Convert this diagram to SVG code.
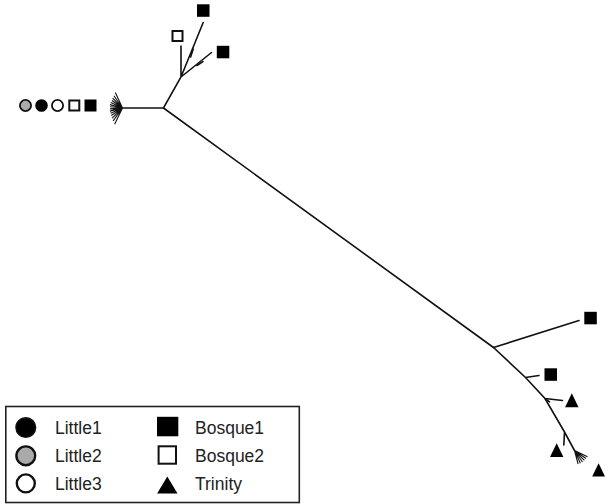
<svg xmlns="http://www.w3.org/2000/svg" width="605" height="504" viewBox="0 0 605 504">
<style>
.br{stroke:#111;stroke-width:1.6;fill:none;stroke-linecap:round}
.fan{stroke:#111;stroke-width:1.1;fill:none}
.fs{fill:#000;stroke:none}
.os{fill:#fff;stroke:#111;stroke-width:2}
.tri{fill:#000;stroke:none}
.lbl{font-family:"Liberation Sans",Arial,sans-serif;font-size:17.5px;fill:#222}
</style>
<rect width="605" height="504" fill="#fff"/>
<g id="connectors">
  <path class="br" d="M122.5,108 L163.5,108 L181,77 L203.2,22.5 M181,77 L181,46 M181,77 L211.5,52.5"/>
  <path class="br" stroke-width="1.3" d="M163.5,108 L493.5,347.5"/>
  <path class="br" d="M493.5,347.5 L579,320.5 M493.5,347.5 L525.5,377.5 L545,398.5 L564.5,432 L574.5,450.5 M525.5,377.5 L539,375.5 M545,398.5 L562.5,400.5 M564.5,432 L563.8,445"/>
  <path class="br" stroke-width="1.2" d="M193.2,49 L190.6,57 M197,65.5 L203,61.6 M545.5,399 L549.5,401.8"/>
  <path class="fan" d="M122.5,108 L115.3,92.6 M122.5,108 L113.9,95.7 M122.5,108 L112.6,98.1 M122.5,108 L111.9,100.5 M122.5,108 L110.7,102.5 M122.5,108 L110,104.6 M122.5,108 L110.1,106.7 M122.5,108 L110,108.9 M122.5,108 L109.9,111.1 M122.5,108 L110.6,113.3 M122.5,108 L111.3,115.5 M122.5,108 L112.1,118.1 M122.5,108 L113.1,120.9 M122.5,108 L114.6,124.2"/>
  <path class="fan" d="M574.5,450.5 L578.1,464 M574.5,450.5 L580.4,463.2 M574.5,450.5 L582.5,462 M574.5,450.5 L584.4,460.4 M574.5,450.5 L586,458.5 M574.5,450.5 L587.5,456.8"/>
</g>
<g id="leaf-little-cluster">
  <circle cx="25.5" cy="105.5" r="5.6" fill="#aaa" stroke="#111" stroke-width="1.8"/>
  <circle cx="41.5" cy="105.5" r="6.3" fill="#000"/>
  <circle cx="57.5" cy="105.5" r="5.6" fill="#fff" stroke="#111" stroke-width="1.8"/>
  <rect class="os" x="69.3" y="100.5" width="10" height="10" stroke-width="1.8"/>
  <rect class="fs" x="84.5" y="99.5" width="12" height="12"/>
</g>
<g id="leaf-bosque2-top"><rect class="os" x="172.5" y="31" width="10" height="10"/></g>
<g id="leaf-bosque1-top"><rect class="fs" x="197" y="4.3" width="12.5" height="12.5"/></g>
<g id="leaf-bosque1-upper"><rect class="fs" x="216.8" y="45.8" width="12.5" height="12.5"/></g>
<g id="leaf-bosque1-right"><rect class="fs" x="584.3" y="311.8" width="12.5" height="12.5"/></g>
<g id="leaf-bosque1-mid"><rect class="fs" x="544.5" y="368.3" width="12.5" height="12.5"/></g>
<g id="leaf-trinity-1"><polygon class="tri" points="571.8,393.3 578.5,407.3 565.1,407.3"/></g>
<g id="leaf-trinity-2"><polygon class="tri" points="556.7,443.3 563.4,457 550,457"/></g>
<g id="leaf-trinity-3"><polygon class="tri" points="598.6,463.3 605,476.6 592.2,476.6"/></g>
<g id="legend">
  <rect x="5.8" y="406.5" width="293.5" height="96" fill="#fff" stroke="#222" stroke-width="1.6"/>
  <circle cx="25.8" cy="427.5" r="9.8" fill="#000" stroke="#111" stroke-width="1.5"/>
  <circle cx="25.8" cy="455.8" r="9.4" fill="#aaa" stroke="#111" stroke-width="2.4"/>
  <circle cx="25.8" cy="483.4" r="9" fill="#fff" stroke="#111" stroke-width="2.4"/>
  <text class="lbl" x="55" y="433.5">Little1</text>
  <text class="lbl" x="55" y="462">Little2</text>
  <text class="lbl" x="55" y="490">Little3</text>
  <rect class="fs" x="157" y="416.8" width="21.3" height="19.5"/>
  <rect class="os" x="158.6" y="446.3" width="17.4" height="17.4" stroke-width="2.6"/>
  <polygon class="tri" points="167.3,476.5 177.5,493.5 157.1,493.5"/>
  <text class="lbl" x="195" y="434">Bosque1</text>
  <text class="lbl" x="195" y="462">Bosque2</text>
  <text class="lbl" x="195" y="490">Trinity</text>
</g>
</svg>
